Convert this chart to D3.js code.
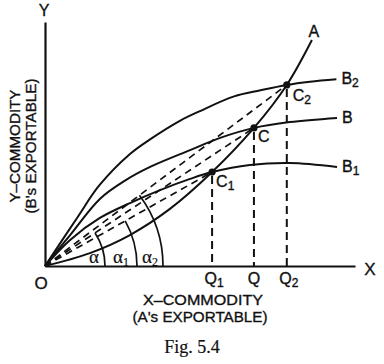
<!DOCTYPE html>
<html>
<head>
<meta charset="utf-8">
<title>Fig. 5.4</title>
<script src="https://cdnjs.cloudflare.com/ajax/libs/d3/7.8.5/d3.min.js"></script>
<style>
  body{margin:0;background:#fff;}
  svg text{font-family:"Liberation Sans",Arial,Helvetica,sans-serif;fill:#111;stroke:#111;stroke-width:0.35;}
  svg .serif{font-family:"Liberation Serif","Times New Roman",serif;stroke-width:0.2;}
</style>
</head>
<body>
<svg id="chart" width="384" height="364"></svg>
<script>
// offer curves (x = X-commodity, y = Y-commodity, 0..100)
var curveA  = [[0,0],[14.5,5.3],[27.4,12.7],[40.3,23.4],[53.9,38.5],[67.4,56.6],[78,74.2],[86.1,92.6]];
var curveB  = [[0,0],[8.1,12.7],[17.7,27.5],[25.8,35],[33.9,40.6],[46.8,47.5],[56.5,52.5],[67.4,56.6],[79,59],[94.2,60.7]];
var curveB1 = [[0,0],[8.1,10.7],[17.7,19.7],[27.4,25.8],[37.1,31.1],[46.8,35.7],[53.9,38.5],[66.1,41.4],[79,42.2],[94.2,40.6]];
var curveB2 = [[0,0],[10.5,20],[17.5,33],[27.5,46],[34,52],[43.5,59.5],[50,63.5],[61,69.5],[69.5,72],[78,74.2],[85.5,75.5],[94,76.5]];

// equilibrium points (A meets B1, B, B2)
var eqNames  = ['C1', 'C', 'C2'];
var eqPoints = [[53.9,38.5],[67.4,56.6],[78,74.2]];
var qNames   = ['Q1', 'Q', 'Q2'];
var angNames = ['α1', 'α', 'α2'];

var svg = d3.select('#chart');

var x = d3.scaleLinear().domain([0,100]).range([45,355]),
    y = d3.scaleLinear().domain([0,100]).range([266,22]);

function sub(sel, main, s){
    // label with subscript
    sel.append('tspan').text(main);
    if(s) sel.append('tspan').attr('dy', 3).style('font-size','12px').text(s);
}

// axes, no ticks
svg.append('g')
    .attr('transform','translate(0,' + y(0) + ')')
    .call(d3.axisBottom(x).ticks(0).tickSizeOuter(0))
    .select('.domain').attr('stroke','#111').attr('stroke-width',2.2);
svg.append('g')
    .attr('transform','translate(' + x(0) + ',0)')
    .call(d3.axisLeft(y).ticks(0).tickSizeOuter(0))
    .select('.domain').attr('stroke','#111').attr('stroke-width',2.2);

var line = d3.line()
    .x(function(d){ return x(d[0]) })
    .y(function(d){ return y(d[1]) })
    .curve(d3.curveCatmullRom.alpha(0.5));

[curveA, curveB, curveB1, curveB2].forEach(function(c){
    svg.append('path')
        .datum(c)
        .attr('d', line)
        .attr('fill','none')
        .attr('stroke','#111')
        .attr('stroke-width',2);
});

// terms of trade rays and drop lines
eqPoints.forEach(function(p){
    svg.append('line')
        .attr('x1', x(0)).attr('y1', y(0))
        .attr('x2', x(p[0])).attr('y2', y(p[1]))
        .attr('stroke','#111').attr('stroke-width',1.7)
        .attr('stroke-dasharray','7,5');
    svg.append('line')
        .attr('x1', x(p[0])).attr('y1', y(p[1]) + 4)
        .attr('x2', x(p[0])).attr('y2', y(0))
        .attr('stroke','#111').attr('stroke-width',2)
        .attr('stroke-dasharray','8,5');
});

// angle arcs at the origin
var radii = [92, 60, 118];
eqPoints.forEach(function(p, i){
    var th = Math.atan2(y(0) - y(p[1]), x(p[0]) - x(0));
    var path = d3.path();
    path.arc(x(0), y(0), radii[i], 0, -th, true);
    svg.append('path')
        .attr('d', path.toString())
        .attr('fill','none')
        .attr('stroke','#111')
        .attr('stroke-width',1.7);
});

// angle labels
var angX = [121, 94, 150];
angNames.forEach(function(n, i){
    var t = svg.append('text').attr('class','serif')
        .attr('x', angX[i]).attr('y', 263)
        .attr('text-anchor','middle')
        .style('font-size','19px');
    sub(t, n[0], n.slice(1));
});

// points
svg.selectAll('circle.eq')
    .data(eqPoints)
    .enter().append('circle')
    .attr('class','eq')
    .attr('cx', function(d){ return x(d[0]) })
    .attr('cy', function(d){ return y(d[1]) })
    .attr('r', 3.6)
    .attr('fill','#111');

var cOff = [[4,15],[4,14],[6,16]];
eqPoints.forEach(function(p, i){
    var t = svg.append('text')
        .attr('x', x(p[0]) + cOff[i][0])
        .attr('y', y(p[1]) + cOff[i][1])
        .style('font-size','16px');
    sub(t, 'C', eqNames[i].slice(1));

    var q = svg.append('text')
        .attr('x', x(p[0]) + (i == 1 ? 0 : 2))
        .attr('y', 284)
        .attr('text-anchor','middle')
        .style('font-size','16px');
    sub(q, 'Q', qNames[i].slice(1));
});

// curve end labels
var ends = [[curveB2,'B','2'],[curveB,'B',''],[curveB1,'B','1']];
ends.forEach(function(e){
    var last = e[0][e[0].length - 1];
    var t = svg.append('text')
        .attr('x', x(last[0]) + 5)
        .attr('y', y(last[1]) + 5)
        .style('font-size','16px');
    sub(t, e[1], e[2]);
});
var lastA = curveA[curveA.length - 1];
svg.append('text')
    .attr('x', x(lastA[0]) + 2).attr('y', y(lastA[1]) - 3)
    .attr('text-anchor','middle')
    .style('font-size','16px').text('A');

// axis letters
svg.append('text').attr('x',44).attr('y',16).attr('text-anchor','middle').style('font-size','16px').text('Y');
svg.append('text').attr('x',370).attr('y',275).attr('text-anchor','middle').style('font-size','17px').text('X');
svg.append('text').attr('x',41).attr('y',289).attr('text-anchor','middle').style('font-size','17px').text('O');

// axis titles
svg.append('text').attr('x',203).attr('y',305).attr('text-anchor','middle')
    .attr('textLength',120).attr('lengthAdjust','spacingAndGlyphs')
    .style('font-size','15px').text('X–COMMODITY');
svg.append('text').attr('x',200).attr('y',322).attr('text-anchor','middle')
    .attr('textLength',135).attr('lengthAdjust','spacingAndGlyphs')
    .style('font-size','15px').text('(A\'s EXPORTABLE)');

var yt = svg.append('g').attr('transform','rotate(-90)');
yt.append('text').attr('x',-146).attr('y',20).attr('text-anchor','middle')
    .attr('textLength',113).attr('lengthAdjust','spacingAndGlyphs')
    .style('font-size','15px').text('Y–COMMODITY');
yt.append('text').attr('x',-146).attr('y',36).attr('text-anchor','middle')
    .attr('textLength',135).attr('lengthAdjust','spacingAndGlyphs')
    .style('font-size','15px').text('(B\'s EXPORTABLE)');

svg.append('text').attr('class','serif')
    .attr('x',192).attr('y',353).attr('text-anchor','middle')
    .style('font-size','18px').text('Fig. 5.4');
</script>
</body>
</html>
